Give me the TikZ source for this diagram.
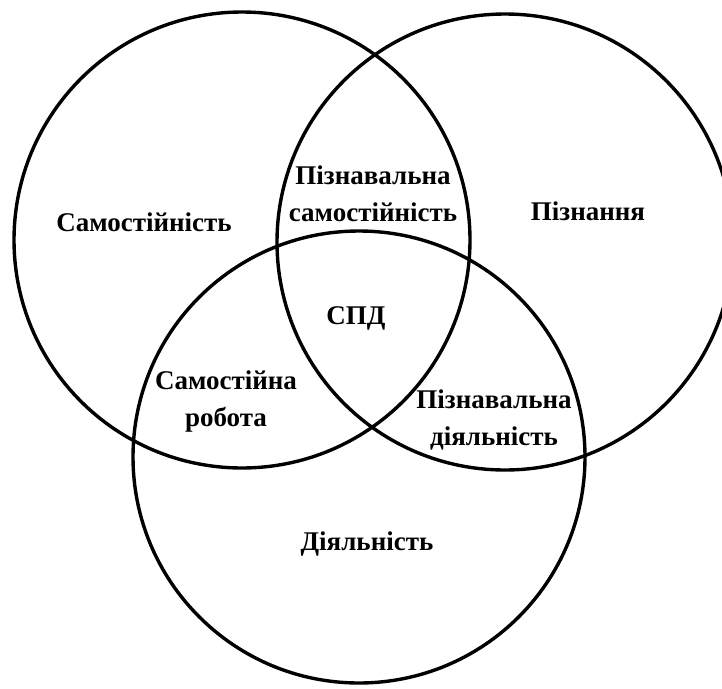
\documentclass[tikz,border=0pt]{standalone}
\usepackage{fontspec}
\setmainfont{Liberation Serif}
\begin{document}
\begin{tikzpicture}[
  x=1pt, y=-1pt,
  setcirc/.style={circle, draw, line width=3.4pt, inner sep=0pt, outer sep=0pt, minimum size=456pt},
  lbl/.style={font=\fontsize{27}{37}\selectfont\bfseries, align=center, inner sep=0pt}
]
  \clip (0,0) rectangle (722,688);

  % three sets
  \node[setcirc] (samost) at (242,240) {};
  \node[setcirc] (piznan) at (505,242) {};
  \node[setcirc, minimum size=452pt] (diial) at (359,457) {};

  % labels
  \node[lbl, anchor=base] (lsamost) at (144,231) {Самостійність};
  \node[lbl, anchor=base] (lpiznan) at (588,220) {Пізнання};
  \node[lbl, anchor=base] (ldiial) at (367,550) {Діяльність};
  \node[lbl, anchor=base] (lspd) at (356,324) {СПД};
  \node[lbl] (lps) at (373,194) {Пізнавальна\\самостійність};
  \node[lbl] (lsr) at (226,402) {Самостійна\\робота};
  \node[lbl] (lpd) at (494,420) {Пізнавальна\\діяльність};
\end{tikzpicture}
\end{document}
